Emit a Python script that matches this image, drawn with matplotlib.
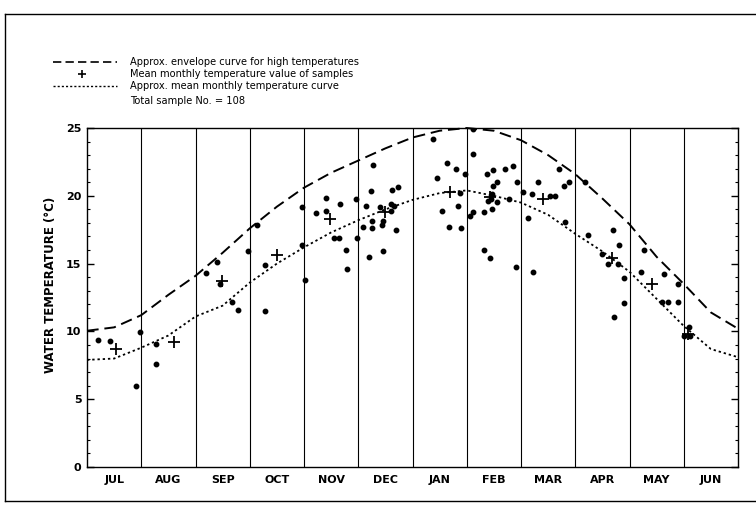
#!/usr/bin/env python3

import matplotlib
matplotlib.use('Agg')
import matplotlib.pyplot as plt
import matplotlib.ticker as ticker
from matplotlib.lines import Line2D

# months from July (0) to June (11), boundaries at whole numbers
months = ['JUL', 'AUG', 'SEP', 'OCT', 'NOV', 'DEC',
          'JAN', 'FEB', 'MAR', 'APR', 'MAY', 'JUN']

# approximate envelope curve for high temperatures
envelope_m = [0.0, 0.5, 1.0, 1.5, 2.0, 2.5, 3.0, 3.5, 4.0, 4.5, 5.0, 5.5, 6.0,
              6.5, 7.0, 7.5, 8.0, 8.5, 9.0, 9.5, 10.0, 10.5, 11.0, 11.5, 12.0]
envelope_t = [10.05, 10.3, 11.2, 12.7, 14.1, 15.8, 17.6, 19.2, 20.6, 21.7, 22.6, 23.5, 24.3,
              24.8, 25.0, 24.8, 24.1, 23.0, 21.6, 19.8, 17.9, 15.5, 13.5, 11.4, 10.2]

# approximate mean monthly temperature curve
meancurve_m = envelope_m
meancurve_t = [7.9, 8.0, 8.8, 9.7, 11.1, 11.9, 13.6, 15.0, 16.2, 17.3, 18.2, 19.0, 19.7,
               20.2, 20.4, 20.0, 19.5, 18.6, 17.2, 15.9, 14.4, 12.4, 10.4, 8.7, 8.1]

# individual samples
sample_m = [0.21, 0.42, 0.90, 0.98,
            1.28, 1.28,
            2.19, 2.39, 2.45, 2.68, 2.78, 2.97,
            3.14, 3.28, 3.28, 3.97, 3.97, 4.01,
            4.23, 4.41, 4.41, 4.66, 4.56, 4.65, 4.77, 4.80, 4.96, 4.97,
            5.27, 5.23, 5.15, 5.09, 5.25, 5.26, 5.19, 5.40, 5.44, 5.46, 5.45,
            5.60, 5.61, 5.63, 5.74, 5.69, 5.66,
            6.38, 6.63, 6.81, 6.46, 6.97, 6.87, 6.84, 6.54, 6.67, 6.89,
            7.11, 7.12, 7.37, 7.48, 7.70, 7.85, 7.56, 7.48, 7.92, 7.12, 7.06,
            7.31, 7.46, 7.40, 7.47, 7.44, 7.56, 7.77, 7.31, 7.42, 7.90,
            8.03, 8.21, 8.53, 8.63, 8.31, 8.70, 8.80, 8.89, 8.12, 8.81, 8.22,
            9.18, 9.24, 9.69, 9.80, 9.49, 9.61, 9.78, 9.89, 9.89, 9.72,
            10.26, 10.21, 10.64, 10.90, 10.60, 10.71, 10.90,
            11.10, 11.00, 11.11]
sample_t = [9.4, 9.3, 6.0, 9.95,
            9.1, 7.6,
            14.3, 15.1, 13.5, 12.2, 11.6, 15.95,
            17.85, 14.9, 11.5, 19.15, 16.37, 13.8,
            18.7, 19.86, 18.88, 19.37, 16.86, 16.9, 16.0, 14.6, 19.8, 16.9,
            22.25, 20.38, 19.25, 17.7, 17.6, 18.14, 15.5, 19.2, 17.85, 18.14, 15.93,
            19.37, 18.9, 20.43, 20.67, 17.48, 19.27,
            24.2, 22.4, 22.0, 21.3, 21.6, 20.2, 19.27, 18.9, 17.7, 17.65,
            24.9, 23.1, 21.6, 21.9, 21.95, 22.2, 21.0, 20.7, 21.0, 18.83, 18.5,
            18.8, 19.0, 19.6, 20.1, 19.75, 19.56, 19.8, 16.0, 15.44, 14.77,
            20.3, 20.1, 20.0, 19.95, 21.0, 21.95, 20.7, 21.0, 18.4, 18.05, 14.4,
            21.0, 17.1, 17.5, 16.4, 15.7, 14.95, 14.95, 13.96, 12.1, 11.04,
            16.0, 14.4, 14.2, 13.5, 12.2, 12.2, 12.2,
            10.3, 9.66, 9.66]

# mean monthly temperature of the samples
monthly_mean_m = [0.53, 1.61, 2.48, 3.50, 4.48, 5.49, 6.69, 7.43, 8.41, 9.68, 10.41, 11.07]
monthly_mean_t = [8.7, 9.25, 13.7, 15.6, 18.27, 18.8, 20.26, 19.9, 19.8, 15.4, 13.5, 9.8]

total_samples = 108

fig = plt.figure(figsize=(7.56, 5.05), dpi=100)
ax = fig.add_axes([0.1151, 0.0752, 0.8611, 0.6713])

# month separators
for b in range(1, len(months)):
    ax.axvline(b, color='black', lw=0.8, zorder=1)

ax.plot(envelope_m, envelope_t, color='black', lw=1.4, dashes=(6, 3), clip_on=False, zorder=3)
ax.plot(meancurve_m, meancurve_t, color='black', lw=1.3, dashes=(1.3, 1.6), zorder=3)
ax.plot(sample_m, sample_t, 'o', color='black', ms=3.2, zorder=4)
ax.plot(monthly_mean_m, monthly_mean_t, '+', color='black', ms=8, mew=1.3, zorder=5)

ax.set_xlim(0, 12)
ax.set_ylim(0, 25)

ax.xaxis.set_major_locator(ticker.FixedLocator([i + 0.5 for i in range(len(months))]))
ax.xaxis.set_major_formatter(ticker.FixedFormatter(months))
ax.tick_params(axis='x', length=0, pad=6)
for lbl in ax.get_xticklabels():
    lbl.set_fontweight('bold')
    lbl.set_fontsize(8)

ax.yaxis.set_major_locator(ticker.MultipleLocator(5))
ax.yaxis.set_minor_locator(ticker.MultipleLocator(1))
ax.tick_params(axis='y', which='major', direction='in', length=5, width=1, labelsize=8, pad=4,
               left=True, right=True)
ax.tick_params(axis='y', which='minor', direction='in', length=2.5, width=0.8,
               left=True, right=True)
for lbl in ax.get_yticklabels():
    lbl.set_fontweight('bold')

for s in ax.spines.values():
    s.set_linewidth(1.0)

ax.set_ylabel('WATER TEMPERATURE (°C)', fontsize=8.5, fontweight='bold')
ax.yaxis.set_label_coords(-0.046, 0.537)

# key in the upper left corner
fig.add_artist(Line2D([0.070, 0.155], [0.877, 0.877], color='black', lw=1.2, dashes=(5, 2.5),
                      transform=fig.transFigure))
fig.add_artist(Line2D([0.1085], [0.853], marker='+', color='black', ms=6, mew=1.2,
                      transform=fig.transFigure))
fig.add_artist(Line2D([0.070, 0.155], [0.830, 0.830], color='black', lw=1.0, dashes=(1.5, 1.5),
                      transform=fig.transFigure))
key_texts = ['Approx. envelope curve for high temperatures',
             'Mean monthly temperature value of samples',
             'Approx. mean monthly temperature curve',
             'Total sample No. = {}'.format(total_samples)]
for txt, y in zip(key_texts, [0.877, 0.853, 0.830, 0.800]):
    fig.text(0.172, y, txt, fontsize=7.1, va='center', ha='left')

# outer frame
fig.add_artist(Line2D([0.0066, 1.0], [0.9723, 0.9723], color='black', lw=1.0, transform=fig.transFigure))
fig.add_artist(Line2D([0.0066, 0.0066], [0.0079, 0.9723], color='black', lw=1.0, transform=fig.transFigure))
fig.add_artist(Line2D([0.0066, 1.0], [0.0079, 0.0079], color='black', lw=1.0, transform=fig.transFigure))

plt.savefig('out.png', dpi=100)
